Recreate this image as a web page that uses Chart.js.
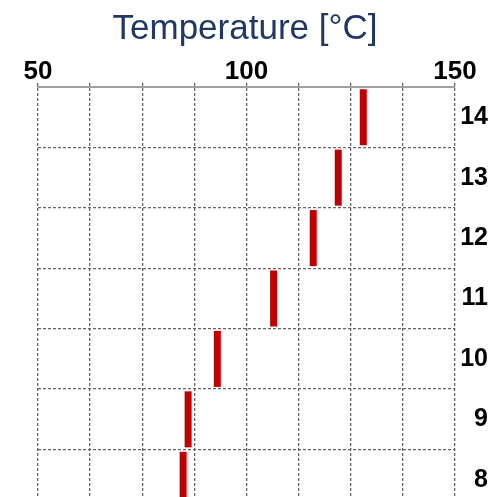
<!DOCTYPE html>
<html>
<head>
<meta charset="utf-8">
<script src="https://cdn.jsdelivr.net/npm/chart.js@4"></script>
<style>
html,body{margin:0;padding:0;background:#fff;overflow:hidden;width:490px;height:497px;}
canvas{display:block;}
</style>
</head>
<body>
<canvas id="c" width="490" height="510" style="width:490px;height:510px;"></canvas>
<script>
const categories = ['14', '13', '12', '11', '10', '9', '8'];
const temperatures = [128, 122, 116, 106.5, 93, 86, 84.8];
const xTickLabels = [50, 100, 150];
const titleText = 'Temperature [°C]';

const points = categories.map((c, i) => ({ x: temperatures[i], y: c }));
const FONT = 'Liberation Sans, Arial, sans-serif';

new Chart(document.getElementById('c'), {
  type: 'line',
  data: {
    labels: categories,
    datasets: [{
      data: points,
      showLine: false,
      pointStyle: 'line',
      rotation: 90,
      radius: 28,
      hoverRadius: 28,
      borderWidth: 7,
      borderColor: '#c00000',
      backgroundColor: '#c00000'
    }]
  },
  options: {
    responsive: false,
    animation: false,
    layout: { autoPadding: false, padding: { left: 2, right: 2, top: 0, bottom: 0 } },
    plugins: {
      legend: { display: false },
      tooltip: { enabled: false },
      title: {
        display: true,
        text: titleText,
        color: '#1f3864',
        font: { family: FONT, size: 35, weight: 'normal', lineHeight: 1.2 },
        padding: { top: 8, bottom: 11 }
      }
    },
    scales: {
      x: {
        type: 'linear',
        position: 'top',
        min: 50,
        max: 150,
        afterFit: (scale) => { scale.paddingLeft = 38; },
        ticks: {
          stepSize: 12.5,
          autoSkip: false,
          maxRotation: 0,
          padding: -2,
          color: '#000',
          font: { family: FONT, size: 26, weight: 'bold', lineHeight: 1.0 },
          callback: (v) => xTickLabels.includes(v) ? String(v) : ''
        },
        grid: {
          color: '#666',
          lineWidth: 1.3,
          tickLength: 4,
          tickBorderDash: [3, 2],
          drawTicks: true
        },
        border: { display: true, color: '#a0a0a0', width: 2, dash: [3, 2] }
      },
      y: {
        type: 'category',
        position: 'right',
        labels: categories,
        offset: true,
        afterFit: (scale) => { scale.width = 33; scale.paddingTop = 0; scale.paddingBottom = 0; },
        ticks: {
          padding: 5,
          crossAlign: 'far',
          color: '#000',
          font: { family: FONT, size: 25, weight: 'bold' }
        },
        grid: {
          offset: true,
          color: '#666',
          lineWidth: 1.3,
          drawTicks: false
        },
        border: { display: false, dash: [3, 2] }
      }
    }
  }
});
</script>
</body>
</html>
